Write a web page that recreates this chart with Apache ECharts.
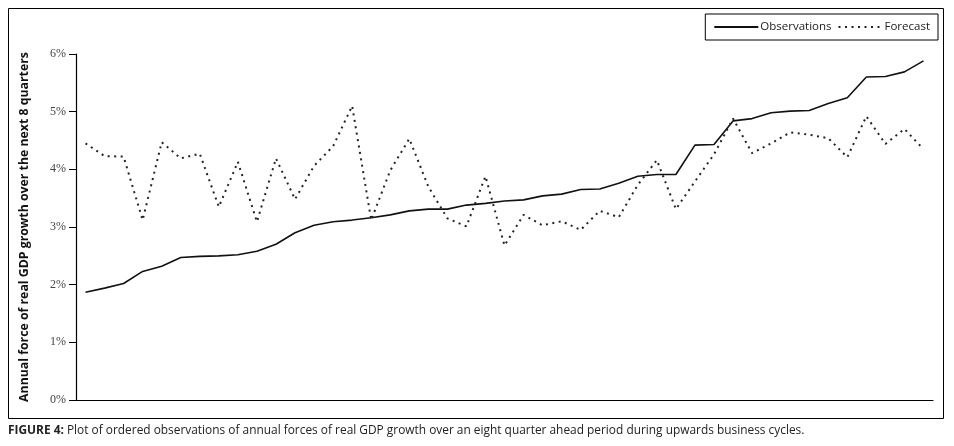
<!DOCTYPE html>
<html><head><meta charset="utf-8">
<script src="https://cdn.jsdelivr.net/npm/echarts@6/dist/echarts.min.js"></script>
<style>html,body{margin:0;padding:0;background:#fff}#c{width:954px;height:446px}</style>
</head><body><div id="c"></div>
<script>
var categories = [];
for (var k = 1; k <= 45; k++) categories.push(String(k));
var observations = [1.87,1.94,2.02,2.23,2.32,2.47,2.49,2.50,2.52,2.58,2.70,2.90,3.03,3.09,3.12,3.16,3.21,3.28,3.31,3.31,3.38,3.41,3.45,3.47,3.54,3.57,3.65,3.66,3.76,3.88,3.91,3.91,4.42,4.43,4.84,4.88,4.98,5.01,5.02,5.14,5.24,5.60,5.61,5.69,5.88];
var forecast = [4.45,4.23,4.22,3.12,4.47,4.19,4.27,3.35,4.13,3.09,4.19,3.48,4.06,4.40,5.10,3.12,3.98,4.53,3.70,3.15,3.01,3.88,2.68,3.21,3.03,3.10,2.95,3.28,3.17,3.73,4.16,3.31,3.79,4.26,4.88,4.28,4.45,4.64,4.60,4.54,4.21,4.92,4.44,4.70,4.35];
var yTicks = [0,1,2,3,4,5,6];
var yTitle = 'Annual force of real GDP growth over the next 8 quarters';
var captionBold = 'FIGURE 4:';
var captionText = ' Plot of ordered observations of annual forces of real GDP growth over an eight quarter ahead period during upwards business cycles.';

var chart = echarts.init(document.getElementById('c'));
chart.setOption({
  animation: false,
  backgroundColor: '#fff',
  grid: {left: 76, right: 21, top: 54, bottom: 46},
  legend: {
    right: 16, top: 14,
    data: ['Observations', 'Forecast'],
    itemWidth: 44, itemHeight: 10, itemGap: 6,
    padding: [7, 8, 7, 8],
    borderColor: '#000', borderWidth: 1, borderRadius: 0,
    itemStyle: {opacity: 0},
    textStyle: {fontFamily: 'Open Sans', fontSize: 11.5, color: '#222', padding: [0,0,0,-3]}
  },
  xAxis: {
    type: 'category', data: categories, boundaryGap: true,
    axisLine: {lineStyle: {color: '#000', width: 1.2}},
    axisTick: {show: false}, axisLabel: {show: false}, splitLine: {show: false}
  },
  yAxis: {
    type: 'value', min: 0, max: 6, interval: 1,
    axisLine: {show: true, lineStyle: {color: '#000', width: 1.2}},
    axisTick: {show: true, length: 7, lineStyle: {color: '#000'}},
    splitLine: {show: false},
    axisLabel: {formatter: function (v) { return yTicks.indexOf(v) >= 0 ? v + '%' : ''; }, fontFamily: 'Liberation Serif', fontSize: 12, color: '#444', margin: 10},
    name: yTitle, nameLocation: 'middle', nameGap: 46, nameRotate: 90,
    nameTextStyle: {fontFamily: 'Open Sans', fontWeight: 'bold', fontSize: 12.3, color: '#111'}
  },
  series: [
    {name: 'Observations', type: 'line', data: observations, symbol: 'none',
     lineStyle: {color: '#111', width: 1.6}, itemStyle: {color: '#111'}},
    {name: 'Forecast', type: 'line', data: forecast, symbol: 'none',
     lineStyle: {color: '#222', width: 2, type: [2, 4.5]}, itemStyle: {color: '#222'}}
  ],
  graphic: [
    {type: 'rect', shape: {x: 8.5, y: 8.5, width: 935, height: 410}, style: {fill: 'none', stroke: '#000', lineWidth: 1}, silent: true},
    {type: 'text', left: 8, top: 425, style: {
      rich: {b: {fontFamily: 'Open Sans', fontWeight: 'bold', fontSize: 11.9, fill: '#222'}, n: {fontFamily: 'Open Sans', fontSize: 11.9, fill: '#222'}},
      text: '{b|' + captionBold + '}{n|' + captionText + '}'
    }}
  ]
});
</script></body></html>
